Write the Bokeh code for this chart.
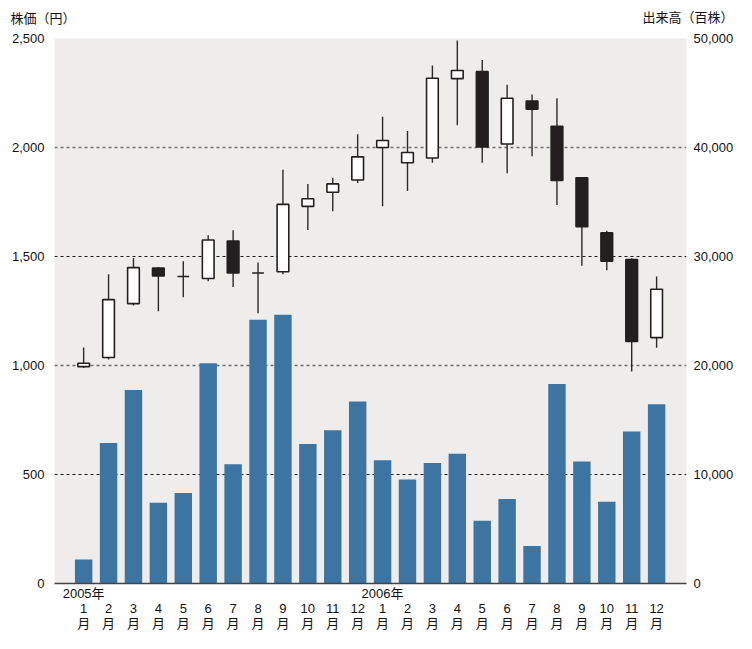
from bokeh.plotting import figure
from bokeh.models import Range1d, LinearAxis, FixedTicker, NumeralTickFormatter, Grid, Label
from bokeh.embed import file_html
from bokeh.resources import INLINE

# ---- data ----
month_labels = ["1", "2", "3", "4", "5", "6", "7", "8", "9", "10", "11", "12",
                "1", "2", "3", "4", "5", "6", "7", "8", "9", "10", "11", "12"]
year_labels = {0: "2005年", 12: "2006年"}
price_open = [995, 1037, 1284, 1447, 1408, 1399, 1571, 1424, 1430, 1730, 1795, 1851,
              2000, 1930, 1952, 2316, 2348, 2016, 2213, 2097, 1861, 1609, 1486, 1128]
price_high = [1083, 1419, 1493, 1452, 1478, 1598, 1620, 1472, 1898, 1832, 1861, 2061,
              2141, 2076, 2376, 2491, 2401, 2288, 2243, 2226, 1861, 1618, 1492, 1408]
price_low = [988, 1028, 1275, 1249, 1313, 1386, 1360, 1240, 1419, 1622, 1708, 1837,
             1731, 1801, 1930, 2102, 1930, 1882, 1960, 1736, 1458, 1437, 973, 1081]
price_close = [1010, 1302, 1449, 1411, 1408, 1576, 1424, 1424, 1739, 1765, 1833, 1957,
               2032, 1977, 2318, 2353, 2002, 2226, 2176, 1849, 1637, 1478, 1110, 1350]
volume = [2200, 12900, 17750, 7400, 8300, 20200, 10950, 24200, 24650, 12800, 14050, 16700,
          11300, 9550, 11050, 11900, 5750, 7750, 3450, 18300, 11200, 7500, 13950, 16450]
price_ticks = [0, 500, 1000, 1500, 2000, 2500]
volume_ticks = [0, 10000, 20000, 30000, 40000, 50000]

idx = list(range(len(month_labels)))
body_top = [max(o, c) for o, c in zip(price_open, price_close)]
body_bottom = [min(o, c) for o, c in zip(price_open, price_close)]
body_fill = ["#FFFFFF" if c >= o else "#231F20" for o, c in zip(price_open, price_close)]

FONT = "'Liberation Sans', 'Noto Sans CJK JP', sans-serif"
JFONT = "'Noto Sans CJK JP', sans-serif"
INK = "#231F20"

p = figure(width=736, height=633, output_backend="svg", toolbar_location=None,
           x_range=Range1d(-1.17, 24.2), y_range=Range1d(0, 2500),
           min_border_left=54, min_border_right=46, min_border_top=36, min_border_bottom=40)
p.background_fill_color = "#EEEDEB"
p.border_fill_color = "#FFFFFF"
p.outline_line_color = None
p.extra_y_ranges = {"vol": Range1d(0, 50000)}

# grids
p.xgrid.visible = False
p.ygrid.ticker = FixedTicker(ticks=[500, 1500, 2500])
p.ygrid.grid_line_color = "#1A1A1A"
p.ygrid.grid_line_dash = "3 3"
p.ygrid.grid_line_width = 1
g2 = Grid(dimension=1, ticker=FixedTicker(ticks=[1000, 2000]),
          grid_line_color="#6E6E6E", grid_line_dash="3 3", grid_line_width=1.4)
p.add_layout(g2)

# volume bars
p.vbar(x=idx, top=volume, bottom=0, width=0.70, y_range_name="vol",
       fill_color="#3D75A2", line_color=None)

# candlesticks
p.segment(x0=idx, y0=price_low, x1=idx, y1=price_high, line_color="#2B2B2B", line_width=1.4)
p.vbar(x=idx, top=body_top, bottom=body_bottom, width=0.47,
       fill_color=body_fill, line_color=INK, line_width=1.6)

# axes
xa = p.xaxis[0]
xa.ticker = FixedTicker(ticks=idx)
xa.major_label_overrides = {i: (year_labels.get(i, " ") + "\n" + m + "\n月")
                            for i, m in enumerate(month_labels)}
xa.major_label_text_font = FONT
xa.major_label_text_font_size = "13px"
xa.major_label_text_line_height = 1.0
xa.major_label_text_color = "#111111"
xa.major_label_standoff = 2
xa.major_tick_out = 0
xa.major_tick_in = 0
xa.major_tick_line_color = None
xa.minor_tick_line_color = None
xa.axis_line_color = "#444444"
xa.axis_line_width = 1.6

ya = p.yaxis[0]
ya.ticker = FixedTicker(ticks=price_ticks)
ya.formatter = NumeralTickFormatter(format="0,0")
ya.major_label_text_font = FONT
ya.major_label_text_font_size = "13px"
ya.major_label_text_color = "#111111"
ya.major_label_standoff = 10
ya.major_tick_out = 0
ya.major_tick_in = 0
ya.major_tick_line_color = None
ya.minor_tick_line_color = None
ya.axis_line_color = None

ra = LinearAxis(y_range_name="vol", ticker=FixedTicker(ticks=volume_ticks),
                formatter=NumeralTickFormatter(format="0,0"))
ra.major_label_text_font = FONT
ra.major_label_text_font_size = "13px"
ra.major_label_text_color = "#111111"
ra.major_label_standoff = 7
ra.major_tick_out = 0
ra.major_tick_in = 0
ra.major_tick_line_color = None
ra.minor_tick_line_color = None
ra.axis_line_color = None
p.add_layout(ra, "right")

# axis titles (top side panels; offsets relative to the frame edges)
p.add_layout(Label(x=-44, y=21, x_units="screen", y_units="screen", text="株価（円）",
                   text_font=JFONT, text_font_size="13px", text_color="#111111",
                   text_baseline="middle", text_align="left"), "above")
p.add_layout(Label(x=635 + 44, y=3, x_units="screen", y_units="screen", text="出来高（百株）",
                   text_font=JFONT, text_font_size="13px", text_color="#111111",
                   text_baseline="middle", text_align="right"), "above")

open("out.html", "w").write(file_html(p, INLINE))
